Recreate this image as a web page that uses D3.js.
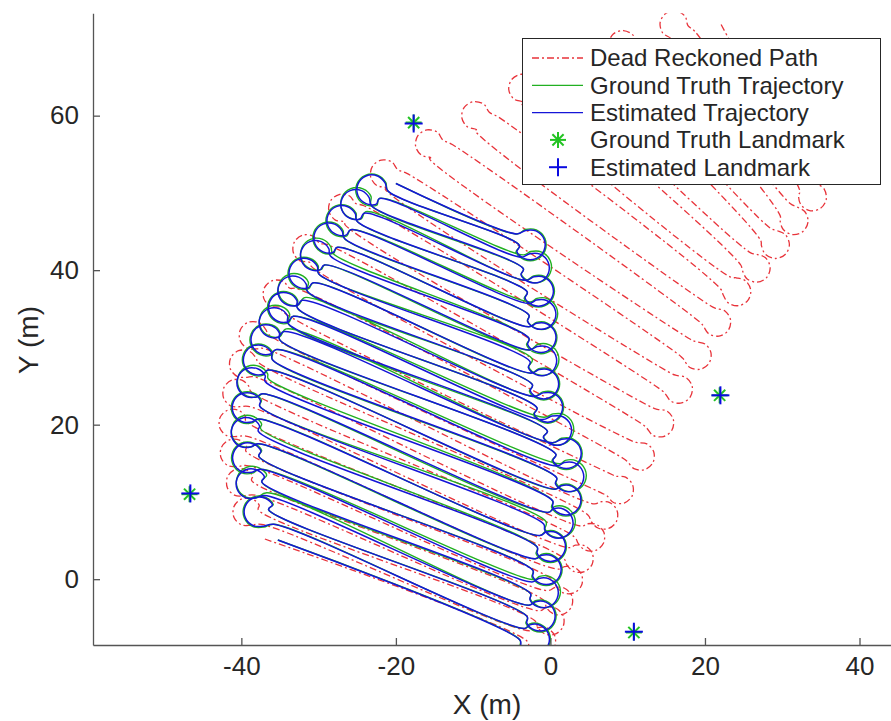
<!DOCTYPE html>
<html lang="en">
<head>
<meta charset="utf-8">
<title>Dead Reckoning vs Estimated Trajectory</title>
<script src="https://d3js.org/d3.v7.min.js"></script>
<style>
  body { margin: 0; background: #fff; }
  text { font-family: "Liberation Sans", Arial, Helvetica, sans-serif; fill: #262626; }
</style>
</head>
<body>
<script>
// pass end points (m), pass 0 at the bottom, even passes run left -> right
const estLeftX  = [-35.28,-35.81,-36.48,-37.01,-37.35,-37.55,-37.73,-37.83,-37.80,-37.76,-37.61,-37.24,-36.92,-36.52,-35.97,-35.48,-35.03,-34.49,-33.92,-33.27,-32.70,-32.12,-31.44,-30.69,-29.99,-29.24,-28.47,-27.60,-26.65,-25.83,-25.02,-24.10,-23.16,-22.12,-21.01,-20.00];
const estLeftY  = [5.07,7.11,9.02,10.83,12.57,14.24,15.88,17.53,19.12,20.74,22.38,24.00,25.59,27.07,28.40,29.72,30.98,32.05,33.06,34.03,35.03,36.10,37.23,38.37,39.53,40.67,41.83,42.96,44.09,45.24,46.32,47.37,48.35,49.28,50.23,51.22];
const estRightX = [-3.95,-3.30,-3.00,-2.78,-2.58,-2.38,-2.27,-1.95,-1.71,-1.39,-0.88,-0.25,0.28,0.62,0.79,0.84,0.71,0.26,-0.39,-1.13,-1.73,-2.11,-2.33,-2.54,-2.64,-2.74,-2.78,-2.78,-2.78,-2.80,-3.00,-3.22,-3.50,-3.78,-4.01,-4.34];
const estRightY = [-7.87,-6.37,-4.87,-3.37,-1.86,-0.36,1.14,2.64,4.14,5.64,7.15,8.65,10.15,11.65,13.15,14.65,16.16,17.66,19.16,20.66,22.16,23.66,25.17,26.67,28.17,29.67,31.17,32.67,34.17,35.68,37.18,38.68,40.18,41.68,43.18,44.69];

const gtLeftX  = [-35.28,-35.81,-36.48,-36.71,-37.35,-37.55,-37.73,-37.83,-37.50,-37.76,-37.61,-37.24,-36.52,-36.52,-35.97,-35.48,-35.03,-34.19,-33.92,-33.27,-32.70,-31.82,-31.44,-30.69,-29.99,-29.24,-28.17,-27.60,-26.65,-25.83,-25.02,-23.90,-23.16,-22.12,-21.01,-20.00];
const gtLeftY  = [5.07,7.11,9.02,11.18,12.57,14.24,15.88,17.53,19.47,20.74,22.38,24.00,25.94,27.07,28.40,29.72,30.98,32.40,33.06,34.03,35.03,36.45,37.23,38.37,39.53,40.67,42.18,42.96,44.09,45.24,46.32,47.57,48.35,49.28,50.23,51.22];
const gtRightX = [-3.95,-3.30,-3.00,-2.78,-2.58,-2.08,-2.27,-1.95,-1.71,-1.39,-0.58,-0.25,0.28,0.62,0.79,1.24,0.71,0.26,-0.39,-0.83,-1.73,-2.11,-2.33,-2.54,-2.34,-2.74,-2.78,-2.78,-2.78,-2.60,-3.00,-3.22,-3.50,-3.48,-4.01,-4.34];
const gtRightY = [-7.87,-6.37,-4.87,-3.37,-1.86,-0.06,1.14,2.64,4.14,5.64,7.45,8.65,10.15,11.65,13.15,14.95,16.16,17.66,19.16,20.96,22.16,23.66,25.17,26.67,28.47,29.67,31.17,32.67,34.17,35.88,37.18,38.68,40.18,41.98,43.18,44.69];

const drLeftX  = [-36.96,-37.39,-37.81,-38.24,-38.67,-39.09,-39.42,-39.42,-39.42,-39.11,-38.77,-38.38,-37.80,-37.20,-36.47,-34.65,-32.87,-30.98,-28.91,-26.58,-24.12,-21.37,-18.58,-15.65,-12.70,-9.72,-6.73,-3.70,-0.69,2.41,5.66,8.92,12.18,15.44,18.69,21.94];
const drLeftY  = [5.20,7.09,8.98,10.89,12.78,14.68,16.58,18.52,20.47,22.38,24.30,26.20,28.05,29.89,31.68,34.64,37.62,40.53,43.33,45.88,48.34,50.47,52.53,54.42,56.26,58.05,59.82,61.54,63.26,64.80,66.02,67.25,68.47,69.70,70.91,72.08];
const drRightX = [-3.04,-2.59,-2.01,-1.41,-0.82,-0.37,0.34,1.03,1.73,2.42,3.11,4.03,4.85,5.69,6.52,8.09,9.39,10.69,11.97,13.19,14.42,15.65,16.88,18.11,19.40,20.71,22.05,23.33,24.63,25.92,27.22,28.48,29.75,31.02,32.29,33.55];
const drRightY = [-8.00,-6.69,-5.39,-4.09,-2.78,-1.48,-0.09,1.29,2.69,4.08,5.46,6.87,8.31,9.75,11.20,13.49,15.66,17.83,20.00,22.21,24.43,26.63,28.84,31.06,33.22,35.39,37.53,39.09,40.67,42.24,43.83,45.42,47.01,48.62,50.21,51.80];

const gtLandmarkX  = [-46.7, -17.7, 21.9, 10.8];
const gtLandmarkY  = [11.0, 59.1, 23.8, -6.9];
const estLandmarkX = [-46.6, -17.7, 22.0, 10.8];
const estLandmarkY = [11.1, 59.0, 23.8, -6.8];

const xTicks = [-40, -20, 0, 20, 40];
const yTicks = [0, 20, 40, 60];

const width = 891, height = 721;
const plot = { left: 93, top: 13.3, right: 902, bottom: 645 };

const x = d3.scaleLinear().domain([-59.2, 45.5]).range([plot.left, plot.right]);
const y = d3.scaleLinear().domain([-8.52, 73.25]).range([plot.bottom, plot.top]);

const svg = d3.select("body").append("svg")
    .attr("width", width)
    .attr("height", height);

svg.append("clipPath").attr("id", "plot-clip")
  .append("rect")
    .attr("x", plot.left).attr("y", plot.top)
    .attr("width", plot.right - plot.left).attr("height", plot.bottom - plot.top);

// turn loops at the ends of the passes (pixel space)
const bulbAngles = [-130, -90, -45, 0, 45, 90, 130];

function turn(s, f, nx, r, off) {
  let ux = f[0] - s[0], uy = f[1] - s[1];
  const ul = Math.hypot(ux, uy); ux /= ul; uy /= ul;
  let vx = nx[0] - f[0], vy = nx[1] - f[1];
  const along = vx * ux + vy * uy;
  vx -= along * ux; vy -= along * uy;
  const vl = Math.hypot(vx, vy); vx /= vl; vy /= vl;
  const mx = (f[0] + nx[0]) / 2, my = (f[1] + nx[1]) / 2;
  return bulbAngles.map(a => {
    const t = a * Math.PI / 180;
    const du = off + r * Math.cos(t), dv = r * Math.sin(t);
    return [mx + ux * du + vx * dv, my + uy * du + vy * dv];
  });
}

function buildPath(lx, ly, rx, ry, r, off) {
  const pts = [];
  const L = i => [x(lx[i]), y(ly[i])];
  const R = i => [x(rx[i]), y(ry[i])];
  for (let i = 0; i < lx.length; i++) {
    const s = i % 2 === 0 ? L(i) : R(i);
    const f = i % 2 === 0 ? R(i) : L(i);
    pts.push(s, f);
    if (i < lx.length - 1) {
      const nx = i % 2 === 0 ? R(i + 1) : L(i + 1);
      pts.push(...turn(s, f, nx, r, off));
    }
  }
  return pts;
}

const line = d3.line().curve(d3.curveCatmullRom.alpha(0.5));

const g = svg.append("g").attr("clip-path", "url(#plot-clip)");

g.append("path")
    .attr("d", line(buildPath(drLeftX, drLeftY, drRightX, drRightY, 14, 14)))
    .attr("fill", "none")
    .attr("stroke", "#e8333a")
    .attr("stroke-width", 1.3)
    .attr("stroke-dasharray", "7,3,2,3");

g.append("path")
    .attr("d", line(buildPath(gtLeftX, gtLeftY, gtRightX, gtRightY, 16, 13)))
    .attr("fill", "none")
    .attr("stroke", "#22b022")
    .attr("stroke-width", 1.4);

g.append("path")
    .attr("d", line(buildPath(estLeftX, estLeftY, estRightX, estRightY, 15, 13)))
    .attr("fill", "none")
    .attr("stroke", "#1515d8")
    .attr("stroke-width", 1.5);

// landmarks
function star(sel, cx, cy) {
  const s = 8;
  [[0, -s, 0, s], [-s, 0, s, 0], [-s * 0.7, -s * 0.7, s * 0.7, s * 0.7], [-s * 0.7, s * 0.7, s * 0.7, -s * 0.7]]
    .forEach(l => sel.append("line")
      .attr("x1", cx + l[0]).attr("y1", cy + l[1])
      .attr("x2", cx + l[2]).attr("y2", cy + l[3])
      .attr("stroke", "#22c322").attr("stroke-width", 2));
}
function plus(sel, cx, cy) {
  const s = 9;
  [[0, -s, 0, s], [-s, 0, s, 0]]
    .forEach(l => sel.append("line")
      .attr("x1", cx + l[0]).attr("y1", cy + l[1])
      .attr("x2", cx + l[2]).attr("y2", cy + l[3])
      .attr("stroke", "#0a0ae0").attr("stroke-width", 2));
}
gtLandmarkX.forEach((d, i) => star(g, x(d), y(gtLandmarkY[i])));
estLandmarkX.forEach((d, i) => plus(g, x(d), y(estLandmarkY[i])));

// Axes
const xAxis = d3.axisBottom(x).tickValues(xTicks).tickFormat(d => String(d))
    .tickSizeInner(-7).tickSizeOuter(0).tickPadding(12);
const yAxis = d3.axisLeft(y).tickValues(yTicks).tickFormat(d => String(d))
    .tickSizeInner(-7).tickSizeOuter(0).tickPadding(14);

const gx = svg.append("g")
    .attr("transform", `translate(0,${plot.bottom})`)
    .call(xAxis);
const gy = svg.append("g")
    .attr("transform", `translate(${plot.left},0)`)
    .call(yAxis);

[gx, gy].forEach(a => {
  a.select(".domain").attr("stroke", "#555").attr("stroke-width", 1.3);
  a.selectAll(".tick line").attr("stroke", "#555").attr("stroke-width", 1.3);
  a.selectAll(".tick text").attr("font-size", 26).attr("fill", "#262626")
    .style("font-family", "'Liberation Sans', Arial, Helvetica, sans-serif");
});

svg.append("text")
    .attr("x", 487).attr("y", 714)
    .attr("text-anchor", "middle")
    .attr("font-size", 28)
    .text("X (m)");

svg.append("text")
    .attr("transform", "rotate(-90)")
    .attr("x", -340).attr("y", 38)
    .attr("text-anchor", "middle")
    .attr("font-size", 28)
    .text("Y (m)");

// Legend
const legend = svg.append("g");
legend.append("rect")
    .attr("x", 522.5).attr("y", 38.5)
    .attr("width", 358).attr("height", 146)
    .attr("fill", "#fff")
    .attr("stroke", "#262626")
    .attr("stroke-width", 1);

const legendRows = [
  { label: "Dead Reckoned Path", type: "line", color: "#e8333a", dash: "7,3,2,3" },
  { label: "Ground Truth Trajectory", type: "line", color: "#22b022" },
  { label: "Estimated Trajectory", type: "line", color: "#1515d8" },
  { label: "Ground Truth Landmark", type: "star" },
  { label: "Estimated Landmark", type: "plus" }
];
legendRows.forEach((d, i) => {
  const ly = 58 + i * 27.3;
  if (d.type === "line") {
    legend.append("line")
      .attr("x1", 532).attr("x2", 583).attr("y1", ly).attr("y2", ly)
      .attr("stroke", d.color).attr("stroke-width", 1.3)
      .attr("stroke-dasharray", d.dash || null);
  } else if (d.type === "star") {
    star(legend, 558, ly);
  } else {
    plus(legend, 558, ly);
  }
  legend.append("text")
    .attr("x", 590).attr("y", ly)
    .attr("dy", "0.35em")
    .attr("font-size", 24)
    .text(d.label);
});
</script>
</body>
</html>
